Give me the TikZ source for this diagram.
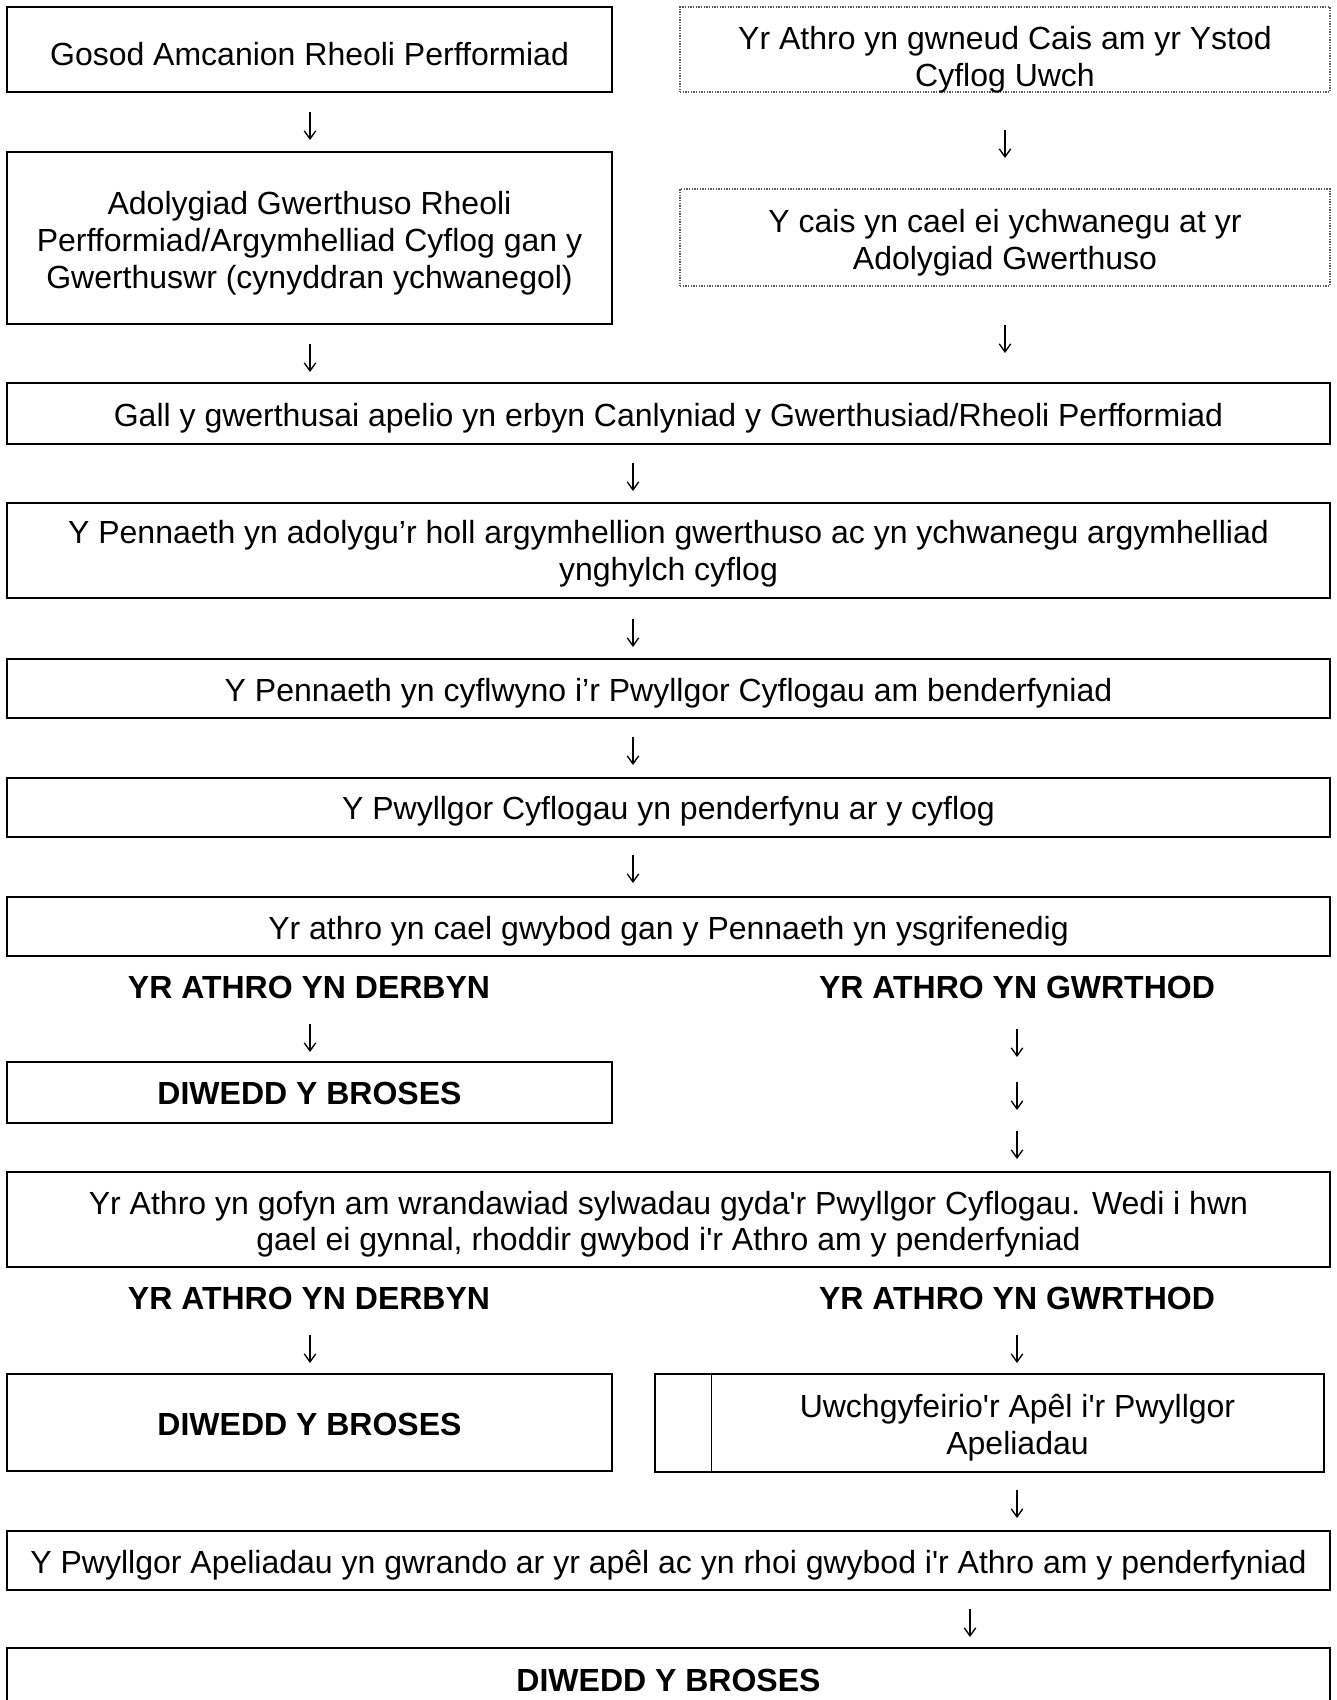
\documentclass[tikz,border=0pt]{standalone}
\usepackage{fontspec}
\setmainfont{Liberation Sans}
\usetikzlibrary{arrows.meta}
\tikzset{
  box/.style={draw, line width=0.75pt, inner sep=0pt, align=center,
    font=\fontsize{12}{13.8}\selectfont},
  dotbox/.style={draw=black!65, line width=0.5pt, dash pattern=on 0.5pt off 0.5pt,
    inner sep=0pt, align=center, font=\fontsize{12}{13.8}\selectfont},
  plain/.style={inner sep=0pt, align=center, font=\fontsize{12}{13.8}\selectfont},
  lbl/.style={inner sep=0pt, font=\bfseries\fontsize{12}{13.8}\selectfont},
  bold/.style={font=\bfseries\fontsize{12}{13.8}\selectfont},
  arr/.style={-{Straight Barb[length=3pt,width=4.3pt]}, line width=0.5pt},
  lw/.style={minimum width=226.875pt},
  ww/.style={minimum width=496.125pt},
  dw/.style={minimum width=243.75pt},
  % last baseline sits #1/2 below the node centre
  tpos/.style={text height=#1, text depth=0pt},
}
\begin{document}
\begin{tikzpicture}[x=0.375pt,y=-0.375pt]
\useasboundingbox (0,0) rectangle (1337,1700);
\fill[white] (0,0) rectangle (1337,1700);

% top left column
\node[box,lw,minimum height=31.875pt,tpos=11.9pt] (b1) at (309.5,49.5) {Gosod Amcanion Rheoli Perfformiad};
\node[box,lw,minimum height=64.5pt,tpos=37.9pt] (b2) at (309.5,238) {Adolygiad Gwerthuso Rheoli\\Perfformiad/Argymhelliad Cyflog gan y\\Gwerthuswr (cynyddran ychwanegol)};

% top right column
\node[dotbox,dw,minimum height=31.875pt,tpos=27.5pt] (d1) at (1005,49.5) {Yr Athro yn gwneud Cais am yr Ystod\\Cyflog Uwch};
\node[dotbox,dw,minimum height=36.375pt,tpos=24.1pt] (d2) at (1005,237.5) {Y cais yn cael ei ychwanegu at yr\\Adolygiad Gwerthuso};

% full-width boxes
\node[box,ww,minimum height=22.875pt,tpos=9.5pt] (b3) at (668.5,413.5) {Gall y gwerthusai apelio yn erbyn Canlyniad y Gwerthusiad/Rheoli Perfformiad};
\node[box,ww,minimum height=35.625pt,tpos=22.5pt] (b4) at (668.5,550.5) {Y Pennaeth yn adolygu’r holl argymhellion gwerthuso ac yn ychwanegu argymhelliad\\ynghylch cyflog};
\node[box,ww,minimum height=22.125pt,tpos=9.5pt] (b5) at (668.5,688.5) {Y Pennaeth yn cyflwyno i’r Pwyllgor Cyflogau am benderfyniad};
\node[box,ww,minimum height=22.125pt,tpos=9.3pt] (b6) at (668.5,807.5) {Y Pwyllgor Cyflogau yn penderfynu ar y cyflog};
\node[box,ww,minimum height=22.125pt,tpos=9.5pt] (b7) at (668.5,926.5) {Yr athro yn cael gwybod gan y Pennaeth yn ysgrifenedig};

% first decision
\node[lbl] (acc1) at (309,987) {YR ATHRO YN DERBYN};
\node[lbl] (rej1) at (1017,987) {YR ATHRO YN GWRTHOD};
\node[box,lw,bold,minimum height=22.875pt,tpos=9.2pt] (e1) at (309.5,1092.5) {DIWEDD Y BROSES};

\node[box,ww,minimum height=35.625pt,tpos=23.5pt] (b8) at (668.5,1219.5) {Yr Athro yn gofyn am wrandawiad sylwadau gyda\textquotesingle r Pwyllgor Cyflogau. Wedi i hwn\\gael ei gynnal, rhoddir gwybod i\textquotesingle r Athro am y penderfyniad};

% second decision
\node[lbl] (acc2) at (309,1298) {YR ATHRO YN DERBYN};
\node[lbl] (rej2) at (1017,1298) {YR ATHRO YN GWRTHOD};
\node[box,lw,bold,minimum height=36.375pt,tpos=9.8pt] (e2) at (309.5,1422.5) {DIWEDD Y BROSES};

\node[plain,minimum width=229.125pt,minimum height=36pt,tpos=23.3pt] (u) at (1017.5,1423) {Uwchgyfeirio\textquotesingle r Apêl i\textquotesingle r Pwyllgor\\Apeliadau};
\coordinate (unw) at ([xshift=-21pt]u.north west);
\draw[line width=0.75pt] (unw) rectangle (u.south east);
\draw[line width=0.4pt] (u.north west) -- (u.south west);

\node[box,ww,minimum height=22.125pt,tpos=9.5pt] (b9) at (668.5,1560.5) {Y Pwyllgor Apeliadau yn gwrando ar yr apêl ac yn rhoi gwybod i\textquotesingle r Athro am y penderfyniad};
\node[box,ww,bold,minimum height=24pt] (b10) at (668.5,1680) {DIWEDD Y BROSES};

% arrows (glyph-like, free standing)
\foreach \n/\x/\y in {1/310/112, 2/1005/130, 3/310/344, 4/1005/325,
  5/633/463, 6/633/619, 7/633/737, 8/633/855,
  9/310/1024, 10/1017/1029, 11/1017/1082, 12/1017/1131,
  13/310/1335, 14/1017/1335, 15/1017/1490, 16/970/1609} {
  \coordinate (s\n) at (\x,\y);
  \coordinate (t\n) at (\x,\y+28);
  \draw[arr] (s\n) -- (t\n);
}
\end{tikzpicture}
\end{document}
